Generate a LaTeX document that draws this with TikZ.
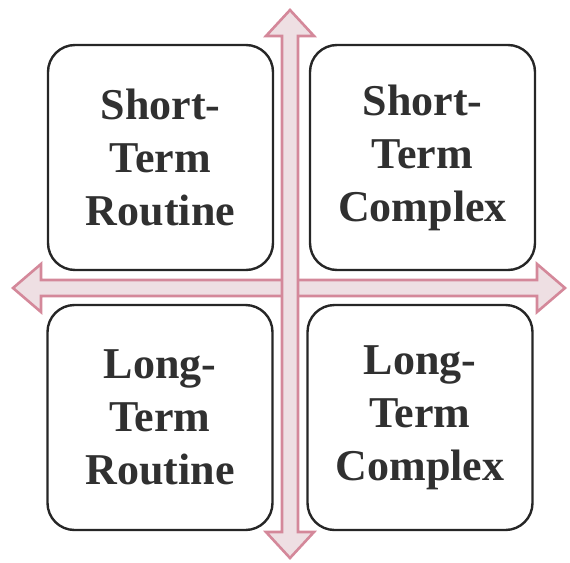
\documentclass[tikz,border=0pt]{standalone}
\usepackage{fontspec}
\setmainfont{Liberation Serif}
\definecolor{arrowline}{HTML}{D4889A}
\definecolor{arrowfill}{HTML}{EEDFE3}
\definecolor{txt}{HTML}{303030}
\begin{document}
\begin{tikzpicture}[x=1pt,y=-1pt,
  quad/.style={draw=black!85, line width=2.4pt, rounded corners=27pt, fill=white,
    minimum width=225pt, minimum height=225pt, align=center, text=txt,
    font=\fontsize{44}{53}\selectfont\bfseries},
  arr/.style={draw=arrowline, fill=arrowfill, line width=2.6pt, line join=miter}]
\useasboundingbox (0,0) rectangle (570,562);
% horizontal double arrow
\filldraw[arr] (13,288) -- (41,264) -- (41,280) -- (537,280) -- (537,264) -- (565,288)
  -- (537,312) -- (537,296) -- (41,296) -- (41,312) -- cycle;
% vertical double arrow
\filldraw[arr] (290,10) -- (314,36) -- (298,36) -- (298,532) -- (314,532) -- (290,558)
  -- (266,532) -- (282,532) -- (282,36) -- (266,36) -- cycle;
\node[quad] (str) at (160.5,157.5) {Short-\\Term\\Routine};
\node[quad] (stc) at (422.5,157.5) {Short-\\Term\\Complex};
\node[quad] (ltr) at (160,417.5) {Long-\\Term\\Routine};
\node[quad] (ltc) at (420,417.5) {Long-\\Term\\Complex};
\end{tikzpicture}
\end{document}
